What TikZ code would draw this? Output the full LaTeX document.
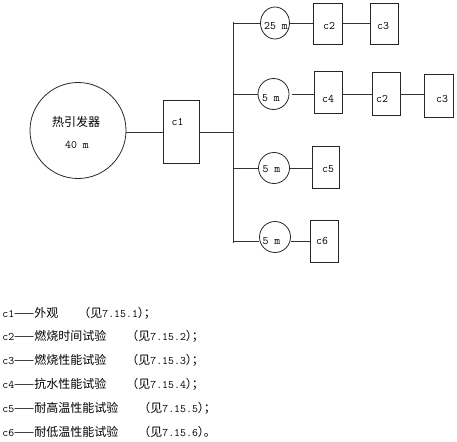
\documentclass[tikz,border=0pt]{standalone}
\usepackage{fontspec}
\usetikzlibrary{shapes.geometric}
\newfontfamily\cjk{Noto Sans CJK SC}
\newcommand\lp{{\cjk\fontsize{12}{14}\selectfont （见}}
\newcommand\rpsemi{{\cjk\fontsize{12}{14}\selectfont ）\kern-6pt；}}
\newcommand\rpstop{{\cjk\fontsize{12}{14}\selectfont ）\kern-6pt。}}
\begin{document}
\begin{tikzpicture}[x=1pt,y=-1pt,line width=0.8pt,
  boxnode/.style={draw=black!85,rectangle,inner sep=0pt},
  ring/.style={draw=black!85,circle,inner sep=0pt,minimum size=30pt},
  lbl/.style={inner sep=0pt,font=\fontsize{11.5}{13}\selectfont\ttfamily},
  cn/.style={inner sep=0pt,font=\fontsize{12}{14}\selectfont\cjk},
  leg/.style={inner sep=0pt,anchor=west,font=\fontsize{11.5}{13}\selectfont\ttfamily},
  wire/.style={draw=black!80}]
\useasboundingbox (0,0) rectangle (457,441);
% main source
\node[draw=black!85,circle,inner sep=0pt,minimum size=96pt] (src) at (78,130.5) {};
\node[cn] (srct) at (76,122) {热引发器};
\node[lbl] (srcm) at (77,145) {40 m};
\node[boxnode,minimum width=36pt,minimum height=63pt] (c1) at (181,131.5) {};
\node[lbl] (c1t) at (177.5,122) {c1};
\coordinate (tm) at (233,132);
\coordinate (ttop) at (233,22);
\coordinate (tbot) at (233,243);
\coordinate (t1) at (233,23);
\coordinate (t2) at (233,94);
\coordinate (t3) at (233,168);
\coordinate (t4) at (233,241);
\draw[wire] (src.east |- tm) -- (c1.west |- tm);
\draw[wire] (c1.east |- tm) -- (tm);
\draw[wire] (ttop) -- (tbot);
% row 1
\node[draw=black!85,ellipse,inner sep=0pt,minimum width=29pt,minimum height=32pt] (o1) at (275,23) {};
\node[lbl] (o1t) at (276,26) {25 m};
\node[boxnode,minimum width=29pt,minimum height=41pt] (r1c2) at (327.5,23.5) {};
\node[lbl] (r1c2t) at (329,26) {c2};
\node[boxnode,minimum width=28pt,minimum height=41pt] (r1c3) at (384,23.5) {};
\node[lbl] (r1c3t) at (383,26) {c3};
\draw[wire] (t1) -- (t1 -| o1.west);
\draw[wire] (t1 -| o1.east) -- (t1 -| r1c2.west);
\draw[wire] (t1 -| r1c2.east) -- (t1 -| r1c3.west);
% row 2
\node[ring,minimum size=31pt] (o2) at (273.5,94) {};
\node[lbl] (o2t) at (271,98) {5 m};
\node[boxnode,minimum width=28pt,minimum height=42pt] (r2c4) at (328,92) {};
\node[lbl] (r2c4t) at (328,99) {c4};
\node[boxnode,minimum width=28pt,minimum height=43pt] (r2c2) at (386,93.5) {};
\node[lbl] (r2c2t) at (382,99) {c2};
\node[boxnode,minimum width=29pt,minimum height=43pt] (r2c3) at (438.5,95.5) {};
\node[lbl] (r2c3t) at (442,99) {c3};
\draw[wire] (t2) -- (t2 -| o2.west);
\draw[wire] ([xshift=3pt]t2 -| o2.east) -- (t2 -| r2c4.west);
\draw[wire] (t2 -| r2c4.east) -- (t2 -| r2c2.west);
\draw[wire] (t2 -| r2c2.east) -- (t2 -| r2c3.west);
% row 3
\node[ring,minimum size=31pt] (o3) at (274,168) {};
\node[lbl] (o3t) at (271.5,169) {5 m};
\node[boxnode,minimum width=27pt,minimum height=42pt] (r3c5) at (325.5,167) {};
\node[lbl] (r3c5t) at (328,169) {c5};
\draw[wire] (t3) -- (t3 -| o3.west);
\draw[wire] (t3 -| o3.east) -- (t3 -| r3c5.west);
% row 4
\node[ring,minimum size=31pt] (o4) at (275,237) {};
\node[lbl] (o4t) at (271.5,241) {5 m};
\node[boxnode,minimum width=28pt,minimum height=42pt] (r4c6) at (324,241) {};
\node[lbl] (r4c6t) at (322,241) {c6};
\draw[wire] (t4) -- (t4 -| o4.west);
\draw[wire] (t4 -| o4.east) -- (t4 -| r4c6.west);
% legend
\node[leg] (l1) at (2,313) {c1{\cjk\fontsize{12}{14}\selectfont ——外观}};
\node[leg] (l1b) at (78,313) {\lp 7.15.1\rpsemi};
\node[leg] (l2) at (2,336) {c2{\cjk\fontsize{12}{14}\selectfont ——燃烧时间试验}};
\node[leg] (l2b) at (126,336) {\lp 7.15.2\rpsemi};
\node[leg] (l3) at (2,360) {c3{\cjk\fontsize{12}{14}\selectfont ——燃烧性能试验}};
\node[leg] (l3b) at (126,360) {\lp 7.15.3\rpsemi};
\node[leg] (l4) at (2,384) {c4{\cjk\fontsize{12}{14}\selectfont ——抗水性能试验}};
\node[leg] (l4b) at (126,384) {\lp 7.15.4\rpsemi};
\node[leg] (l5) at (2,408) {c5{\cjk\fontsize{12}{14}\selectfont ——耐高温性能试验}};
\node[leg] (l5b) at (138,408) {\lp 7.15.5\rpsemi};
\node[leg] (l6) at (2,432) {c6{\cjk\fontsize{12}{14}\selectfont ——耐低温性能试验}};
\node[leg] (l6b) at (138,432) {\lp 7.15.6\rpstop};
\end{tikzpicture}
\end{document}
